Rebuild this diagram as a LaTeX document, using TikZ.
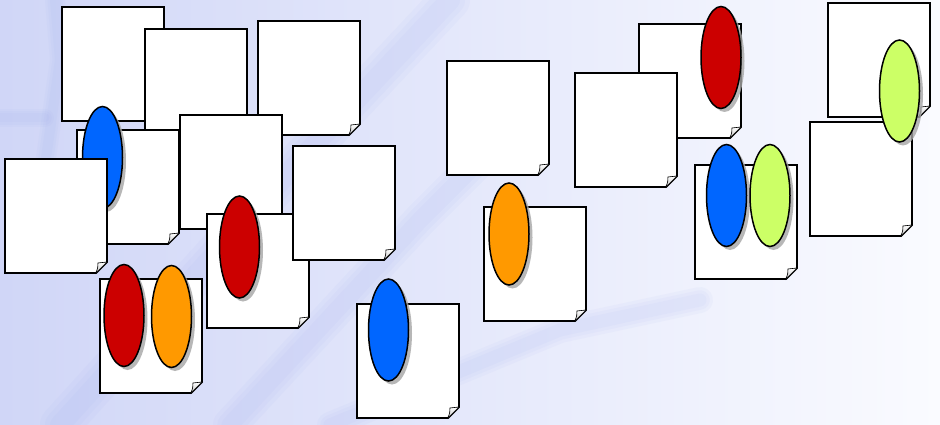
\documentclass[tikz,border=0pt]{standalone}
\usepackage{tikz}
\usetikzlibrary{shapes.geometric,shadows,calc}
\definecolor{bgblue}{RGB}{208,214,247}
\definecolor{bgmid}{RGB}{232,236,251}
\definecolor{bgpale}{RGB}{250,251,255}
\definecolor{bgband}{RGB}{150,165,235}
\definecolor{ovred}{RGB}{204,0,0}
\definecolor{ovorange}{RGB}{255,153,0}
\definecolor{ovblue}{RGB}{0,102,255}
\definecolor{ovgreen}{RGB}{204,255,102}
\tikzset{
  pagebox/.style={draw=black, fill=white, line width=1.8pt, line join=miter},
  foldflap/.style={draw=black, line width=0.6pt, top color=white, bottom color=gray!45},
  oval/.style={ellipse, draw=black, line width=1.5pt, minimum width=40pt, minimum height=102pt,
               inner sep=0pt, drop shadow={shadow xshift=3.5pt, shadow yshift=-3.5pt, fill=gray!70, opacity=0.8}},
  band/.style={bgband, line cap=round, line join=round, opacity=0.06},
}
% one sheet: name, x and y of its top left corner
\newcommand{\docpage}[3]{%
  \begin{scope}[shift={(#2,#3)}]
    \coordinate (#1) at (0,0);
    \draw[pagebox] (#1) -- (102,0) -- (102,103) -- (91,114) -- (0,114) -- cycle;
    \filldraw[foldflap] (102,103) .. controls (98,103) .. (93,104)
      .. controls (93,108) .. (91,114) -- cycle;
  \end{scope}}
% soft backdrop stroke: width, path
\newcommand{\softband}[2]{%
  \foreach \w in {0.5,0.75,1} {\draw[band, line width=\w*#1] #2;}}

\begin{document}
\begin{tikzpicture}[x=1pt, y=-1pt]
  \useasboundingbox (0,0) rectangle (940,425);
  % backdrop
  \shade[left color=bgblue, middle color=bgmid, right color=bgpale] (0,0) rectangle (940,425);
  \softband{18pt}{(0,118) -- (45,118)}
  \softband{20pt}{(40,200) -- (60,60) -- (55,0)}
  \softband{40pt}{(60,425) -- (300,160) -- (450,0)}
  \softband{34pt}{(230,425) -- (420,220) -- (520,120)}
  \softband{26pt}{(330,425) -- (560,330) -- (700,300)}

  % left cluster
  \docpage{p1}{62}{7}
  \docpage{p2}{145}{29}
  \docpage{p3}{258}{21}
  \docpage{p4}{77}{130}
  \node[oval, fill=ovblue] (e1) at (102.5,157.5) {};
  \docpage{p5}{5}{159}
  \docpage{p6}{180}{115}
  \docpage{p8}{207}{214}
  \node[oval, fill=ovred] (e2) at (239.5,247) {};
  \docpage{p7}{293}{146}
  \docpage{p9}{100}{279}
  \node[oval, fill=ovred] (e3) at (124,315.5) {};
  \node[oval, fill=ovorange] (e4) at (171.5,316.5) {};

  % middle
  \docpage{p10}{447}{61}
  \docpage{p12}{484}{207}
  \node[oval, fill=ovorange] (e6) at (509,234) {};
  \docpage{p13}{357}{304}
  \node[oval, fill=ovblue] (e5) at (388.5,330) {};

  % right cluster
  \docpage{p14}{639}{24}
  \node[oval, fill=ovred] (e7) at (721,57.5) {};
  \docpage{p11}{575}{73}
  \docpage{p15}{695}{165}
  \node[oval, fill=ovblue] (e8) at (726.5,195.5) {};
  \node[oval, fill=ovgreen] (e9) at (770,195.5) {};
  \docpage{p16}{828}{3}
  \docpage{p17}{810}{122}
  \node[oval, fill=ovgreen] (e10) at (899.5,91) {};
\end{tikzpicture}
\end{document}
